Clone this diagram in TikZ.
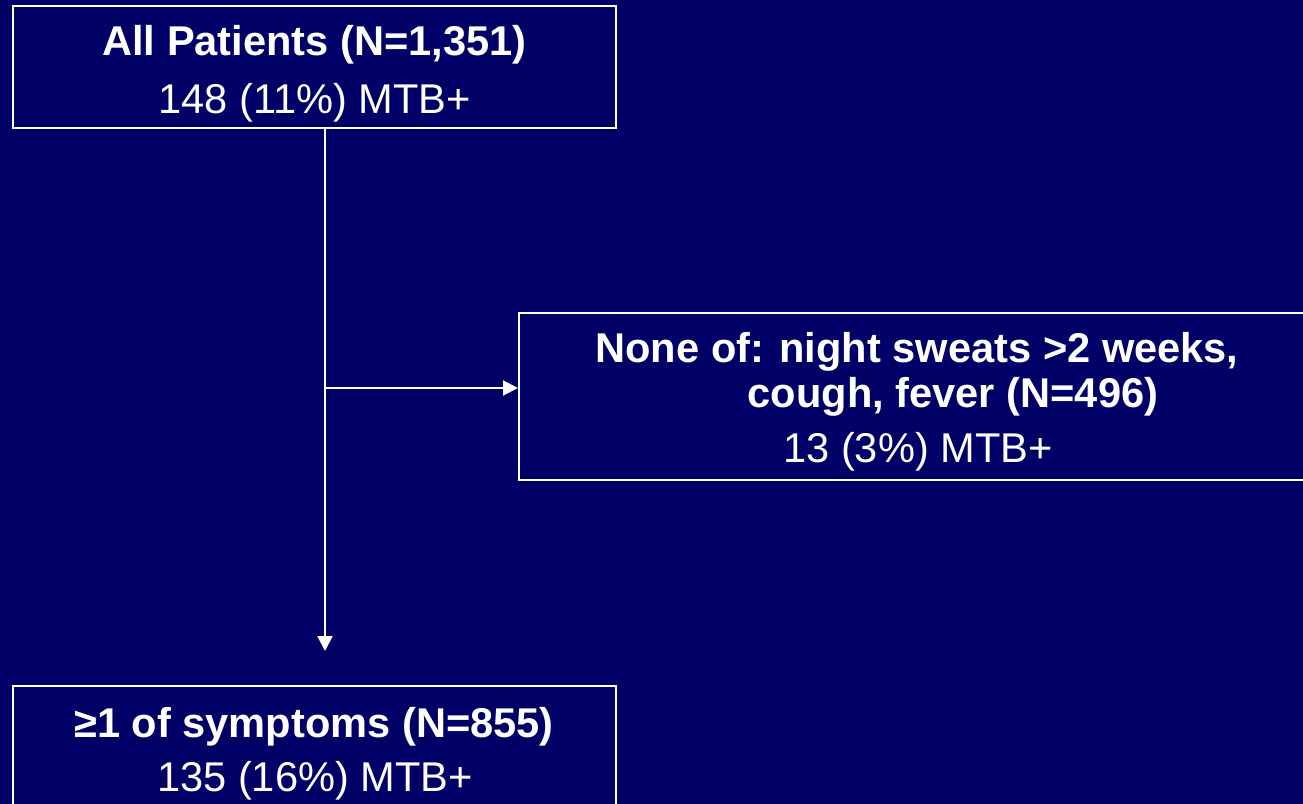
\documentclass[tikz,border=0pt]{standalone}
\usepackage{fontspec}
\setmainfont{Liberation Sans}
\usepackage{tikz}
\usetikzlibrary{arrows.meta}
\definecolor{slidebg}{RGB}{0,0,102}

\begin{document}
\begin{tikzpicture}[x=0.5pt,y=-0.5pt,
box/.style n args={2}{draw=white,line width=1pt,minimum width=#1,minimum height=#2,inner sep=0pt},
ttl/.style={text=white,anchor=base,inner sep=0pt,font=\bfseries\fontsize{20.8}{24}\selectfont},
sub/.style={text=white,anchor=base,inner sep=0pt,font=\fontsize{20.8}{24}\selectfont},
conn/.style={draw=white,line width=1pt,-{Triangle[length=7.5pt,width=7.5pt]}}]
\fill[slidebg] (0,0) rectangle (1303,804);
\useasboundingbox (0,0) rectangle (1303,804);
\node[box={301.5pt}{61pt}] (all) at (314.5,67) {};
\node[box={398pt}{83.5pt}] (none) at (917,396.5) {};
\node[box={301.5pt}{61pt}] (sym) at (314.5,747) {};
\node[ttl] (allT) at (314.5,55) {All Patients (N=1,351)};
\node[sub] (allS) at (314.5,113) {148 (11\%) MTB+};
\node[ttl] (noneT) at (917,362) {None of: night sweats >2 weeks,};
\node[ttl] (noneU) at (953,407) {cough, fever (N=496)};
\node[sub] (noneS) at (918,462) {13 (3\%) MTB+};
\node[ttl] (symT) at (314,737) {≥1 of symptoms (N=855)};
\node[sub] (symS) at (315,791) {135 (16\%) MTB+};
\coordinate (split) at (325,388);
\draw[conn,shorten >=17pt] (split |- all.south) -- (split |- sym.north);
\draw[conn] (split) -- (split -| none.west);
\end{tikzpicture}
\end{document}
